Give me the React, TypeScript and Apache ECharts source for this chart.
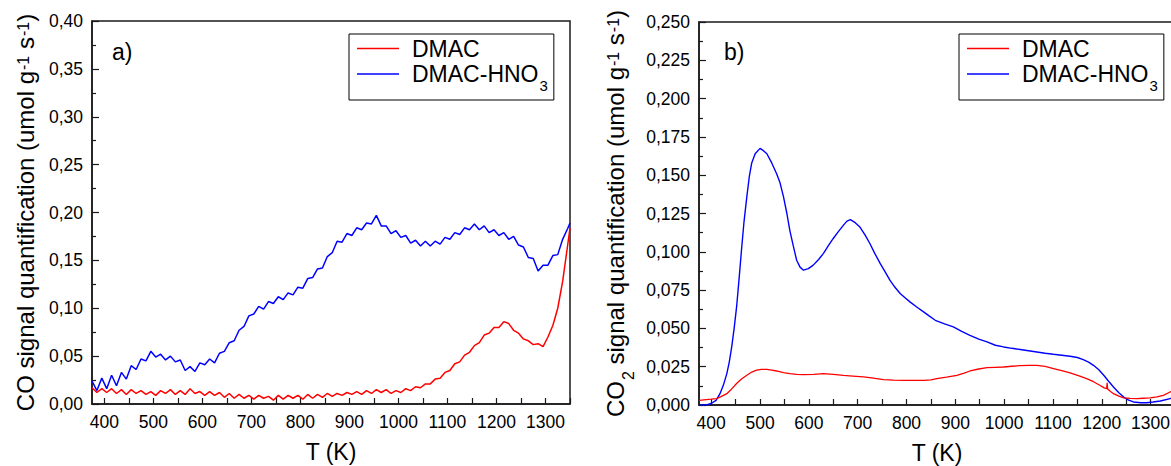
import React, { useEffect, useRef } from "react";
import * as echarts from "echarts";

// ---------- DATA ----------
// Panel a) CO signal (umol g-1 s-1) vs T (K)
const T_A = [375, 385, 395, 405, 415, 425, 435, 445, 455, 465, 475, 485, 495, 505, 515, 525, 535, 545, 555, 565, 575, 585, 595, 605, 615, 625, 635, 645, 655, 665, 675, 685, 695, 705, 715, 725, 735, 745, 755, 765, 775, 785, 795, 805, 815, 825, 835, 845, 855, 865, 875, 885, 895, 905, 915, 925, 935, 945, 955, 965, 975, 985, 995, 1005, 1015, 1025, 1035, 1045, 1055, 1065, 1075, 1085, 1095, 1105, 1115, 1125, 1135, 1145, 1155, 1165, 1175, 1185, 1195, 1205, 1215, 1225, 1235, 1245, 1255, 1265, 1275, 1285, 1295, 1305, 1315, 1325, 1335, 1345, 1350];
const CO_DMAC = [0.017, 0.012, 0.016, 0.012, 0.016, 0.011, 0.015, 0.010, 0.015, 0.011, 0.014, 0.010, 0.013, 0.009, 0.014, 0.011, 0.015, 0.010, 0.014, 0.010, 0.016, 0.011, 0.013, 0.009, 0.013, 0.009, 0.012, 0.007, 0.011, 0.006, 0.010, 0.006, 0.009, 0.005, 0.009, 0.006, 0.008, 0.004, 0.009, 0.005, 0.009, 0.006, 0.009, 0.005, 0.010, 0.006, 0.010, 0.007, 0.011, 0.008, 0.011, 0.009, 0.012, 0.010, 0.013, 0.010, 0.014, 0.011, 0.015, 0.012, 0.015, 0.011, 0.014, 0.012, 0.016, 0.014, 0.018, 0.017, 0.021, 0.021, 0.026, 0.027, 0.033, 0.035, 0.042, 0.044, 0.051, 0.054, 0.061, 0.064, 0.072, 0.074, 0.080, 0.080, 0.086, 0.084, 0.077, 0.074, 0.068, 0.066, 0.062, 0.063, 0.060, 0.070, 0.082, 0.100, 0.128, 0.165, 0.184];
const CO_DMAC_HNO3 = [0.024, 0.014, 0.027, 0.016, 0.030, 0.019, 0.033, 0.026, 0.040, 0.036, 0.047, 0.045, 0.055, 0.049, 0.052, 0.046, 0.050, 0.044, 0.046, 0.035, 0.039, 0.034, 0.043, 0.041, 0.047, 0.043, 0.053, 0.055, 0.064, 0.066, 0.077, 0.081, 0.092, 0.094, 0.102, 0.099, 0.107, 0.105, 0.112, 0.109, 0.116, 0.114, 0.122, 0.121, 0.131, 0.132, 0.141, 0.142, 0.154, 0.158, 0.170, 0.169, 0.178, 0.176, 0.184, 0.182, 0.189, 0.188, 0.197, 0.186, 0.186, 0.178, 0.181, 0.174, 0.176, 0.168, 0.171, 0.165, 0.170, 0.165, 0.170, 0.167, 0.174, 0.172, 0.179, 0.177, 0.184, 0.182, 0.188, 0.182, 0.186, 0.179, 0.182, 0.176, 0.179, 0.172, 0.175, 0.166, 0.164, 0.153, 0.152, 0.139, 0.145, 0.145, 0.155, 0.156, 0.172, 0.183, 0.189];

// Panel b) CO2 signal (umol g-1 s-1) vs T (K)
const T_B_DMAC = [375, 390, 400, 411, 420, 432, 442, 452, 462, 473, 483, 493, 503, 514, 524, 534, 548, 561, 575, 589, 610, 630, 650, 671, 690, 712, 732, 753, 774, 794, 815, 835, 850, 862, 882, 903, 918, 930, 948, 965, 982, 999, 1016, 1033, 1050, 1067, 1084, 1101, 1118, 1135, 1152, 1169, 1183, 1196, 1205, 1210, 1211, 1212, 1218, 1224, 1235, 1245, 1258, 1272, 1285, 1299, 1313, 1326, 1340, 1350];
const CO2_DMAC = [0.0030, 0.0035, 0.0038, 0.0042, 0.0055, 0.0074, 0.0105, 0.0140, 0.0170, 0.0194, 0.0215, 0.0227, 0.0233, 0.0233, 0.0228, 0.0222, 0.0212, 0.0205, 0.0200, 0.0198, 0.0200, 0.0205, 0.0200, 0.0194, 0.0189, 0.0183, 0.0175, 0.0166, 0.0163, 0.0161, 0.0161, 0.0161, 0.0164, 0.0172, 0.0182, 0.0194, 0.0208, 0.0222, 0.0235, 0.0244, 0.0246, 0.0248, 0.0253, 0.0257, 0.0259, 0.0259, 0.0252, 0.0238, 0.0224, 0.0209, 0.0192, 0.0172, 0.0152, 0.0129, 0.0112, 0.0106, 0.0145, 0.0104, 0.0088, 0.0074, 0.0058, 0.0046, 0.0043, 0.0042, 0.0044, 0.0046, 0.0053, 0.0063, 0.0085, 0.0095];
const T_B_HNO3 = [375, 390, 400, 410, 418, 425, 432, 437, 442, 447, 452, 457, 462, 467, 473, 478, 483, 490, 500, 507, 514, 524, 534, 541, 548, 555, 561, 568, 575, 582, 589, 599, 609, 620, 630, 640, 650, 660, 671, 678, 685, 695, 705, 715, 725, 735, 746, 756, 766, 776, 787, 797, 807, 821, 835, 847, 859, 878, 896, 913, 930, 948, 965, 982, 999, 1016, 1033, 1050, 1067, 1084, 1101, 1118, 1135, 1150, 1162, 1173, 1183, 1194, 1204, 1214, 1224, 1235, 1245, 1255, 1265, 1280, 1292, 1305, 1320, 1340, 1350];
const CO2_DMAC_HNO3 = [0.0000, 0.0000, 0.0010, 0.0030, 0.0074, 0.0130, 0.0205, 0.0280, 0.0379, 0.0500, 0.0640, 0.0820, 0.1010, 0.1190, 0.1360, 0.1490, 0.1580, 0.1640, 0.1675, 0.1660, 0.1640, 0.1580, 0.1510, 0.1450, 0.1360, 0.1250, 0.1140, 0.1040, 0.0945, 0.0900, 0.0880, 0.0890, 0.0913, 0.0950, 0.0990, 0.1040, 0.1087, 0.1130, 0.1174, 0.1200, 0.1210, 0.1190, 0.1160, 0.1110, 0.1054, 0.0990, 0.0924, 0.0870, 0.0815, 0.0770, 0.0728, 0.0700, 0.0673, 0.0640, 0.0608, 0.0580, 0.0553, 0.0530, 0.0510, 0.0480, 0.0455, 0.0430, 0.0412, 0.0390, 0.0379, 0.0370, 0.0362, 0.0354, 0.0346, 0.0338, 0.0331, 0.0325, 0.0318, 0.0310, 0.0296, 0.0280, 0.0259, 0.0230, 0.0194, 0.0155, 0.0118, 0.0080, 0.0052, 0.0032, 0.0020, 0.0015, 0.0015, 0.0020, 0.0026, 0.0042, 0.0050];

const X_LABELS = [400, 500, 600, 700, 800, 900, 1000, 1100, 1200, 1300];
const X_TICKS = [400, 450, 500, 550, 600, 650, 700, 750, 800, 850, 900, 950, 1000, 1050, 1100, 1150, 1200, 1250, 1300, 1350];

const NAME_1 = "DMAC";
const NAME_2 = "DMAC-HNO3";

// ---------- STYLE ----------
const FONT = "'Liberation Sans', Arial, Helvetica, sans-serif";
const RED = "#ff0000";
const BLUE = "#0000ff";
const INK = "#1a1a1a";

const RICH = {
  m: { fontSize: 23, lineHeight: 28, fontFamily: FONT, color: "#000" },
  sub: { fontSize: 15, lineHeight: 10, padding: [18, 0, 0, 1], verticalAlign: "top", fontFamily: FONT, color: "#000" },
  sup: { fontSize: 15, lineHeight: 10, padding: [4, 0, 0, 1], verticalAlign: "top", fontFamily: FONT, color: "#000" },
  sp: { width: 8, fontSize: 23, lineHeight: 28 },
};

const RICH_T = {
  m: { fontSize: 24, lineHeight: 29, fontFamily: FONT, color: "#000" },
  sub: { fontSize: 16, lineHeight: 10, padding: [19, 0, 0, 1], verticalAlign: "top", fontFamily: FONT, color: "#000" },
  sup: { fontSize: 16, lineHeight: 10, padding: [4, 0, 0, 1], verticalAlign: "top", fontFamily: FONT, color: "#000" },
};

const zip = (xs: number[], ys: number[]) => xs.map((x, i) => [x, ys[i]]);

function xAxis(gridIndex: number) {
  return {
    type: "value",
    gridIndex,
    min: 375,
    max: 1350,
    name: "T (K)",
    nameLocation: "middle",
    nameGap: 37,
    nameTextStyle: { fontSize: 23, lineHeight: 22, fontFamily: FONT, color: "#000" },
    axisLine: { show: true, onZero: false, lineStyle: { color: INK, width: 1.5 } },
    axisTick: { show: true, inside: true, length: 6, customValues: X_TICKS, lineStyle: { color: INK, width: 1.2 } },
    axisLabel: {
      customValues: X_LABELS,
      fontSize: 17.5,
      fontFamily: FONT,
      color: "#000",
      margin: 9,
      formatter: (v: number) => String(Math.round(v)),
    },
    splitLine: { show: false },
  };
}

function yAxis(gridIndex: number, max: number, interval: number, digits: number, name: string, nameGap: number) {
  return {
    type: "value",
    gridIndex,
    min: 0,
    max,
    interval,
    name,
    nameLocation: "middle",
    nameGap,
    nameRotate: 90,
    nameTextStyle: { fontSize: 24, fontFamily: FONT, color: "#000", rich: RICH_T },
    axisLine: { show: true, onZero: false, lineStyle: { color: INK, width: 1.5 } },
    axisTick: { show: true, inside: true, length: 7, lineStyle: { color: INK, width: 1.2 } },
    minorTick: { show: true, splitNumber: 2, length: 4, lineStyle: { color: INK, width: 1.2 } },
    axisLabel: {
      fontSize: 17.5,
      fontFamily: FONT,
      color: "#000",
      margin: 9,
      formatter: (v: number) => v.toFixed(digits).replace(".", ","),
    },
    splitLine: { show: false },
  };
}

function legend(left: number) {
  return {
    show: true,
    orient: "vertical",
    left,
    top: 34,
    data: [NAME_1, NAME_2],
    selectedMode: false,
    icon: "rect",
    itemWidth: 42,
    itemHeight: 1.5,
    itemGap: 0,
    padding: [3, 6, 7, 8],
    borderColor: "#000",
    borderWidth: 1,
    backgroundColor: "#fff",
    textStyle: { fontSize: 23, fontFamily: FONT, color: "#000", rich: RICH },
    formatter: (n: string) => (n === NAME_2 ? "{sp| }{m|DMAC-HNO}{sub|3}" : "{sp| }{m|DMAC}"),
  };
}

export default function App() {
  const ref = useRef<HTMLDivElement>(null);

  useEffect(() => {
    if (!ref.current) return;
    const chart = echarts.init(ref.current, undefined, { renderer: "svg" });
    chart.setOption({
      animation: false,
      backgroundColor: "#fff",
      grid: [
        { left: 92, top: 21, width: 478, height: 383, outerBoundsMode: "none", containLabel: false, show: true, borderColor: INK, borderWidth: 1.5, backgroundColor: "transparent" },
        { left: 699, top: 22, width: 476, height: 383, outerBoundsMode: "none", containLabel: false, show: true, borderColor: INK, borderWidth: 1.5, backgroundColor: "transparent" },
      ],
      xAxis: [xAxis(0), xAxis(1)],
      yAxis: [
        yAxis(0, 0.4, 0.05, 2, "{m|CO signal quantification (umol g}{sup|-1}{m| s}{sup|-1}{m|)}", 52),
        yAxis(1, 0.25, 0.025, 3, "{m|CO}{sub|2}{m| signal quantification (umol g}{sup|-1}{m| s}{sup|-1}{m|)}", 69),
      ],
      legend: [legend(349), legend(959)],
      graphic: [
        { type: "text", left: 112, top: 40, style: { text: "a)", fontSize: 23, fontFamily: FONT, fill: "#000" } },
        { type: "text", left: 724, top: 40, style: { text: "b)", fontSize: 23, fontFamily: FONT, fill: "#000" } },
      ],
      series: [
        { name: NAME_1, type: "line", xAxisIndex: 0, yAxisIndex: 0, data: zip(T_A, CO_DMAC), showSymbol: false, color: RED, lineStyle: { color: RED, width: 1.5 }, z: 3 },
        { name: NAME_2, type: "line", xAxisIndex: 0, yAxisIndex: 0, data: zip(T_A, CO_DMAC_HNO3), showSymbol: false, color: BLUE, lineStyle: { color: BLUE, width: 1.5 }, z: 2 },
        { name: NAME_1, type: "line", xAxisIndex: 1, yAxisIndex: 1, data: zip(T_B_DMAC, CO2_DMAC), showSymbol: false, color: RED, lineStyle: { color: RED, width: 1.3 }, z: 3 },
        { name: NAME_2, type: "line", xAxisIndex: 1, yAxisIndex: 1, data: zip(T_B_HNO3, CO2_DMAC_HNO3), showSymbol: false, color: BLUE, lineStyle: { color: BLUE, width: 1.4 }, z: 2 },
      ],
    });
    return () => chart.dispose();
  }, []);

  return (
    <div style={{ position: "fixed", left: 0, top: 0, width: 1171, height: 466, overflow: "hidden", background: "#fff" }}>
      <div ref={ref} style={{ width: 1180, height: 466 }} />
    </div>
  );
}
